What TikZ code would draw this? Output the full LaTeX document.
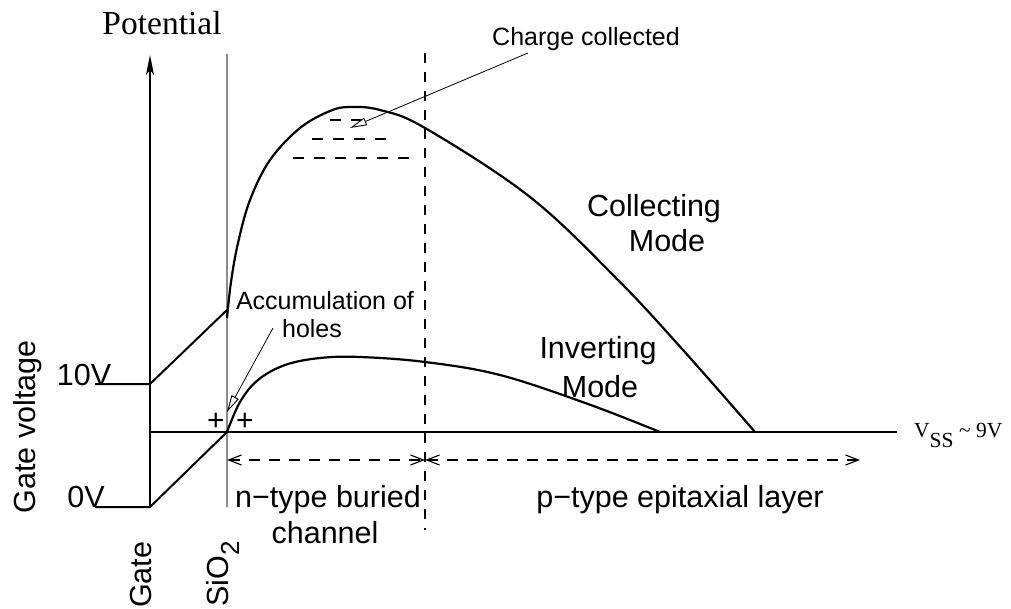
\documentclass[tikz,border=0pt]{standalone}
\usepackage{fontspec}
\setmainfont{Liberation Sans}
\newfontfamily\serifface{Liberation Serif}
\usetikzlibrary{arrows.meta}

\begin{document}
\begin{tikzpicture}[x=1pt,y=-1pt,
  big/.style={font=\fontsize{30.5}{36}\selectfont, inner sep=0pt},
  small/.style={font=\fontsize{25}{30}\selectfont, inner sep=0pt},
  axisline/.style={line width=2pt, line cap=butt},
  oxide/.style={line width=2pt, draw=black!45},
  curve/.style={line width=2.2pt},
  pointer/.style={line width=0.8pt, -{Triangle[open, length=17pt, width=8pt, fill=white, line width=0.9pt]}},
  boundary/.style={line width=1.2pt, dash pattern=on 10pt off 9pt},
  span/.style={line width=1.3pt, dash pattern=on 11pt off 9pt,
    {Straight Barb[length=13pt, width=10pt, line width=1.1pt]}-{Straight Barb[length=13pt, width=10pt, line width=1.1pt]}},
  charge/.style={line width=1.5pt, dash pattern=on 11pt off 10pt},
  plus/.style={font=\fontsize{30}{34}\selectfont, inner sep=0pt}
]
\useasboundingbox (0,0) rectangle (1011,609);

% reference points
\coordinate (axisbot) at (150,507);
\coordinate (axistop) at (150,55);
\coordinate (ox top) at (227,54);
\coordinate (ox bot) at (227,507);
\coordinate (vss left) at (150,432);
\coordinate (vss right) at (897,432);
\coordinate (junc top) at (425,53);
\coordinate (junc bot) at (425,530);
\coordinate (junc mid) at (425,460);
\coordinate (span left) at (227,460);
\coordinate (span right) at (860,460);

% potential axis
\draw[axisline, -{Stealth[length=20pt, width=8pt, inset=5pt]}] (axisbot) -- (axistop);
\node[font=\serifface\fontsize{33.5}{40}\selectfont, inner sep=0pt, anchor=base] (pot) at (162,35) {Potential};

% oxide and junction boundaries
\draw[oxide] (ox top) -- (ox bot);
\draw[boundary] (junc top) -- (junc bot);

% substrate level
\draw[axisline] (vss left) -- (vss right);
\node[font=\serifface\fontsize{21.5}{26}\selectfont, inner sep=0pt, anchor=base west] (vss) at (914,437)
  {V\raisebox{-10pt}{SS} \textasciitilde{} 9V};

% gate voltage levels and their drop across the oxide
\coordinate (g10a) at (95,384);
\coordinate (g10b) at (150,384);
\coordinate (g10c) at (227,310);
\coordinate (g0a) at (95,507);
\coordinate (g0b) at (150,507);
\coordinate (g0c) at (227,432);
\draw[axisline, line join=miter] (g10a) -- (g10b) -- (g10c);
\draw[axisline, line join=miter] (g0a) -- (g0b) -- (g0c);
\node[big, anchor=base] (ten) at (84,385) {10V};
\node[big, anchor=base] (zero) at (86,507) {0V};
\node[big, anchor=base, rotate=90] (gv) at (35,427) {Gate voltage};
\node[big, anchor=base west, rotate=90] (gate) at (151,608) {Gate};
\node[big, anchor=base west, rotate=90] (sio) at (228,607)
  {SiO{\fontsize{26}{30}\selectfont\raisebox{-11pt}{2}}};

% collecting mode potential
\draw[curve] plot[smooth, tension=0.6] coordinates {
  (227,318) (231,282) (238,243) (250,200) (270,160) (300,128) (330,111)
  (350,107) (380,110) (425,128) (530,197) (618,280) (683,350) (755,432)};
\node[big, anchor=base] (coll) at (654,217) {Collecting};
\node[big, anchor=base] (collm) at (667,252) {Mode};

% inverting mode potential
\draw[curve] plot[smooth, tension=0.6] coordinates {
  (227,432) (240,402) (258,380) (285,365) (320,358) (360,357) (425,362)
  (500,375) (588,404) (660,432)};
\node[big, anchor=base] (inv) at (598,358) {Inverting};
\node[big, anchor=base] (invm) at (600,397) {Mode};

% collected electrons
\draw[charge] (330,120) -- (362,120);
\draw[charge] (312,139) -- (390,139);
\draw[charge] (293,158) -- (415,158);
\node[small, anchor=base] (cc) at (586,46) {Charge collected};
\coordinate (cc from) at (528,53);
\coordinate (cc to) at (350,128);
\draw[pointer] (cc from) -- (cc to);

% accumulated holes
\node[small, anchor=base] (acc) at (325,309) {Accumulation of};
\node[small, anchor=base] (holes) at (312,337) {holes};
\coordinate (h from) at (273,328);
\coordinate (h to) at (227,412);
\draw[pointer] (h from) -- (h to);
\node[plus] (p1) at (216,422) {+};
\node[plus] (p2) at (245,422) {+};

% regions
\draw[span] (span left) -- (junc mid);
\draw[span] (junc mid) -- (span right);
\node[big, anchor=base] (ntype) at (328,507) {n\textminus type buried};
\node[big, anchor=base] (chan) at (325,543) {channel};
\node[big, anchor=base] (ptype) at (680,507) {p\textminus type epitaxial layer};
\end{tikzpicture}
\end{document}
